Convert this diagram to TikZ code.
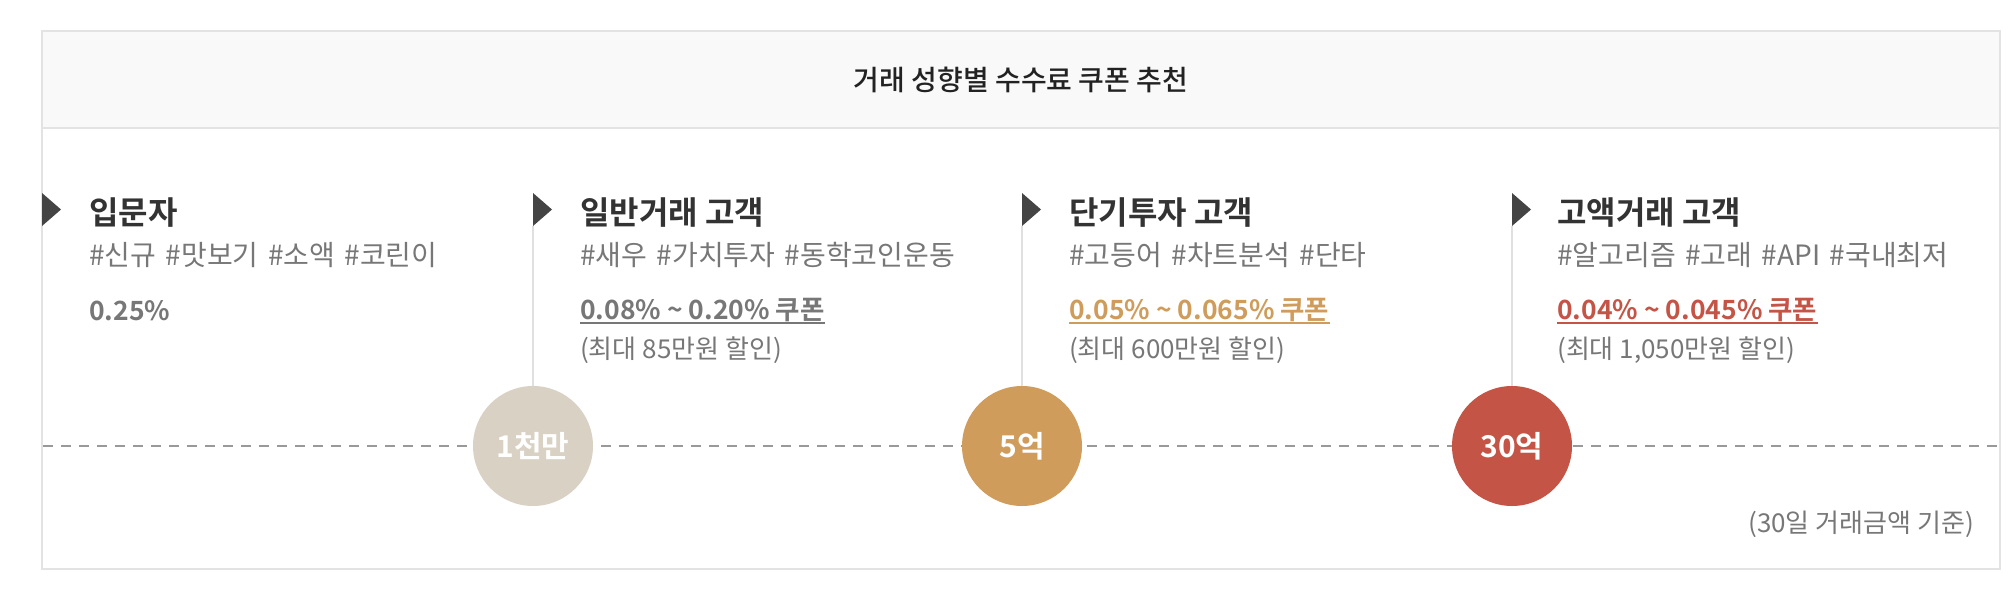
\documentclass[tikz,border=0pt]{standalone}
\usepackage{fontspec}
\setmainfont{Noto Sans CJK KR}[BoldFont={Noto Sans CJK KR Bold}]
\newfontfamily\medfont{Noto Sans CJK KR Medium}
\usetikzlibrary{positioning}

\definecolor{framec}{HTML}{E3E3E3}
\definecolor{headc}{HTML}{F9F9F9}
\definecolor{headtc}{HTML}{222222}
\definecolor{flagc}{HTML}{444444}
\definecolor{titlec}{HTML}{333333}
\definecolor{tagc}{HTML}{777777}
\definecolor{dashc}{HTML}{999999}
\definecolor{stemc}{HTML}{E0E0E0}
\definecolor{lowc}{HTML}{D9D1C4}
\definecolor{midc}{HTML}{CF9C5C}
\definecolor{highc}{HTML}{C45546}

\tikzset{
  ttl/.style={anchor=base west, inner sep=0pt, text=titlec, font=\bfseries\fontsize{32}{38}\selectfont},
  tag/.style={anchor=base west, inner sep=0pt, text=tagc, font=\fontsize{28}{34}\selectfont,
    execute at begin node={\spaceskip=9.5pt\relax}},
  cpn/.style={anchor=base west, inner sep=0pt, font=\bfseries\fontsize{26.5}{32}\selectfont},
  sub/.style={anchor=base west, inner sep=0pt, text=tagc, font=\fontsize{26}{32}\selectfont},
  stage/.style={circle, minimum size=120pt, inner sep=0pt, text=white, font=\bfseries\fontsize{30}{36}\selectfont},
  stem/.style={stemc, line width=2pt}
}

\begin{document}
\begin{tikzpicture}[x=1pt, y=-1pt]
\useasboundingbox (0,0) rectangle (2014,592);
%frame
\fill[white] (0,0) rectangle (2014,592);
\filldraw[fill=headc, draw=framec, line width=2pt] (42,31) rectangle (2000,128);
\draw[framec, line width=2pt] (42,31) rectangle (2000,569);
\node[anchor=base, inner sep=0pt, text=headtc, font=\medfont\fontsize{28}{34}\selectfont] (head) at (1021,90) {거래 성향별 수수료 쿠폰 추천};

%timeline
\coordinate (tl) at (43,446);
\coordinate (tr) at (1999,446);
\draw[dashc, line width=2pt, dash pattern=on 10pt off 8pt] (tl) -- (tr);

%stems
\coordinate (f2) at (533,226);
\coordinate (f3) at (1022,226);
\coordinate (f4) at (1512,226);

%circles
\node[stage, fill=lowc] (c1) at (533,446) {1천만};
\node[stage, fill=midc] (c2) at (1022,446) {5억};
\node[stage, fill=highc] (c3) at (1512,446) {30억};
\draw[stem] (f2) -- (c1);
\draw[stem] (f3) -- (c2);
\draw[stem] (f4) -- (c3);

%flags
\fill[flagc] (42,193) -- (61,209.5) -- (42,226) -- cycle;
\fill[flagc] (533,193) -- (552,209.5) -- (533,226) -- cycle;
\fill[flagc] (1022,193) -- (1041,209.5) -- (1022,226) -- cycle;
\fill[flagc] (1512,193) -- (1531,209.5) -- (1512,226) -- cycle;

%column 1
\node[ttl] (t1) at (89,224) {입문자};
\node[tag] (h1) at (89,265) {\#신규 \#맛보기 \#소액 \#코린이};
\node[cpn, text=tagc] (p1) at (89,320) {0.25\%};

%column 2
\node[ttl] (t2) at (580,224) {일반거래 고객};
\node[tag] (h2) at (580,265) {\#새우 \#가치투자 \#동학코인운동};
\node[cpn, text=tagc] (p2) at (580,319) {0.08\% \textasciitilde{} 0.20\% 쿠폰};
\draw[tagc, line width=1.8pt] ([yshift=-4pt]p2.base west) -- ([yshift=-4pt]p2.base east);
\node[sub] (s2) at (580,358) {(최대 85만원 할인)};

%column 3
\node[ttl] (t3) at (1069,224) {단기투자 고객};
\node[tag] (h3) at (1069,265) {\#고등어 \#차트분석 \#단타};
\node[cpn, text=midc] (p3) at (1069,319) {0.05\% \textasciitilde{} 0.065\% 쿠폰};
\draw[midc, line width=1.8pt] ([yshift=-4pt]p3.base west) -- ([yshift=-4pt]p3.base east);
\node[sub] (s3) at (1069,358) {(최대 600만원 할인)};

%column 4
\node[ttl] (t4) at (1557,224) {고액거래 고객};
\node[tag] (h4) at (1557,265) {\#알고리즘 \#고래 \#API \#국내최저};
\node[cpn, text=highc] (p4) at (1557,319) {0.04\% \textasciitilde{} 0.045\% 쿠폰};
\draw[highc, line width=1.8pt] ([yshift=-4pt]p4.base west) -- ([yshift=-4pt]p4.base east);
\node[sub] (s4) at (1557,358) {(최대 1,050만원 할인)};

%note
\node[sub, anchor=base east] (note) at (1974,532) {(30일 거래금액 기준)};
\end{tikzpicture}
\end{document}
